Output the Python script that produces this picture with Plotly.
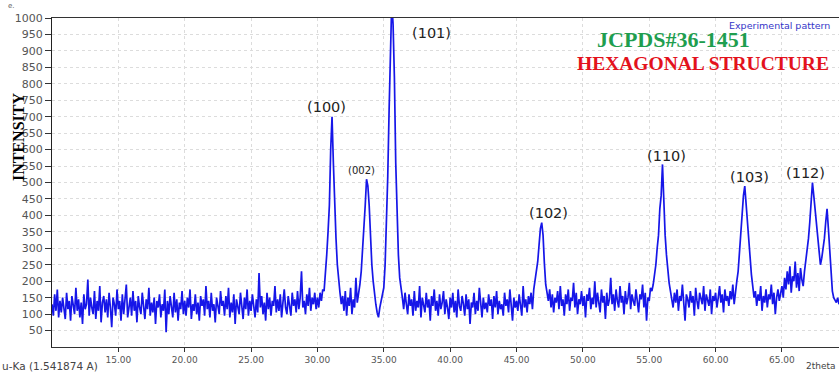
import plotly.graph_objects as go

scan_start = 10.0   # 2theta of first point
scan_step = 0.1     # 2theta step

counts_10_20 = [130, 95, 160, 110, 175, 90, 140, 105, 150, 120,
                85, 165, 115, 140, 80, 155, 125, 100, 180, 110,
                145, 90, 135, 70, 160, 115, 130, 205, 95, 150,
                120, 100, 170, 85, 140, 110, 185, 75, 135, 155,
                105, 145, 90, 165, 120, 60, 150, 130, 95, 175,
                115, 140, 80, 160, 100, 135, 190, 90, 125, 150,
                95, 170, 110, 140, 75, 155, 120, 100, 165, 130,
                85, 145, 115, 180, 95, 135, 105, 150, 70, 140,
                120, 160, 90, 130, 110, 175, 45, 140, 100, 155,
                125, 90, 165, 105, 145, 80, 135, 115, 170, 100]
counts_20_30 = [140, 95, 150, 120, 175, 85, 130, 110, 160, 100,
                135, 80, 155, 125, 145, 95, 185, 115, 140, 90,
                165, 110, 130, 75, 150, 120, 100, 170, 125, 140,
                95, 155, 115, 180, 90, 135, 105, 160, 70, 145,
                120, 100, 165, 130, 85, 150, 115, 175, 95, 140,
                110, 160, 125, 90, 145, 105, 225, 120, 155, 100,
                135, 80, 165, 115, 150, 95, 140, 125, 185, 105,
                145, 110, 160, 90, 135, 175, 120, 100, 155, 130,
                95, 165, 125, 145, 105, 170, 115, 150, 230, 120,
                140, 100, 160, 125, 180, 110, 150, 130, 165, 115]
counts_30_40 = [150, 120, 165, 140, 175, 170, 215, 280, 350, 430,
                600, 700, 560, 420, 330, 250, 195, 165, 130, 155,
                110, 170, 95, 150, 125, 180, 100, 145, 120, 210,
                135, 160, 190, 230, 290, 350, 430, 510, 490, 430,
                320, 250, 200, 160, 130, 105, 90, 120, 140, 150,
                180, 250, 360, 520, 720, 920, 1050, 980, 820, 560,
                380, 280, 210, 170, 150, 115, 165, 130, 100, 160,
                125, 145, 95, 170, 110, 140, 120, 185, 90, 150,
                130, 105, 165, 120, 145, 80, 155, 125, 175, 110,
                140, 95, 160, 115, 135, 170, 100, 145, 120, 85]
counts_40_50 = [150, 120, 165, 105, 140, 90, 175, 125, 110, 155,
                130, 95, 160, 115, 145, 70, 135, 120, 165, 100,
                140, 110, 180, 125, 90, 150, 115, 135, 105, 160,
                125, 145, 85, 155, 120, 170, 100, 140, 115, 130,
                95, 165, 125, 145, 105, 175, 130, 80, 150, 120,
                140, 110, 160, 125, 95, 185, 120, 145, 105, 155,
                130, 165, 115, 175, 200, 225, 260, 310, 360, 378,
                340, 255, 190, 165, 140, 175, 120, 160, 105, 150,
                135, 170, 115, 185, 125, 145, 95, 160, 130, 175,
                110, 150, 140, 195, 120, 165, 100, 145, 130, 170]
counts_50_60 = [125, 155, 90, 160, 140, 180, 115, 150, 130, 200,
                120, 165, 140, 105, 175, 135, 155, 85, 165, 125,
                145, 210, 130, 160, 110, 175, 140, 120, 185, 135,
                155, 100, 170, 130, 150, 195, 115, 160, 140, 125,
                175, 135, 105, 160, 145, 190, 120, 165, 80, 150,
                140, 180, 170, 190, 215, 250, 300, 340, 420, 460,
                555, 440, 340, 280, 230, 195, 170, 150, 120, 165,
                135, 175, 110, 155, 140, 190, 125, 80, 160, 145,
                120, 170, 135, 155, 95, 180, 140, 115, 165, 150,
                130, 185, 110, 160, 145, 125, 175, 100, 155, 140]
counts_60_70 = [165, 120, 150, 185, 135, 160, 105, 175, 140, 155,
                125, 170, 145, 190, 130, 175, 200, 230, 290, 340,
                400, 460, 489, 430, 370, 310, 270, 220, 185, 150,
                170, 125, 160, 140, 185, 110, 155, 135, 175, 120,
                160, 145, 190, 130, 165, 100, 150, 175, 140, 160,
                185, 150, 210, 175, 230, 190, 245, 165, 215, 200,
                260, 180, 225, 170, 240, 205, 185, 230, 260, 290,
                330, 380, 440, 500, 460, 420, 360, 320, 290, 250,
                270, 300, 330, 380, 420, 360, 300, 220, 170, 150,
                140, 135, 150, 130]

x_tick_values = [15, 20, 25, 30, 35, 40, 45, 50, 55, 60, 65]
y_tick_values = list(range(50, 1001, 50))

peak_labels = ["(100)", "(002)", "(101)", "(102)", "(110)", "(103)", "(112)"]

# ---- build ----
intensity = (counts_10_20 + counts_20_30 + counts_30_40 +
             counts_40_50 + counts_50_60 + counts_60_70)
two_theta = [round(scan_start + scan_step * i, 2) for i in range(len(intensity))]

fig = go.Figure()
fig.add_trace(go.Scatter(
    x=two_theta, y=intensity, mode="lines",
    line=dict(color="rgb(22,22,232)", width=1.7),
    showlegend=False, hoverinfo="skip"))

sans = "DejaVu Sans, Verdana, sans-serif"
serif = "Liberation Serif, Times New Roman, serif"

fig.update_xaxes(
    range=[10, 69.3], tickvals=x_tick_values,
    ticktext=[f"{v:.2f}" for v in x_tick_values],
    ticks="outside", ticklen=4, tickcolor="#333333",
    showline=True, linecolor="#333333", linewidth=1, mirror=True,
    showgrid=True, gridcolor="#dcdcdc", griddash="dot", gridwidth=1,
    zeroline=False, tickfont=dict(family=sans, size=9, color="#555555"))
fig.update_yaxes(
    range=[0, 1000], tickvals=y_tick_values,
    ticks="outside", ticklen=6, tickcolor="#333333",
    showline=True, linecolor="#222222", linewidth=1, mirror=False,
    showgrid=True, gridcolor="#dcdcdc", griddash="dot", gridwidth=1,
    zeroline=False, tickfont=dict(family=sans, size=11, color="#555555"))

# peak labels (data coordinates)
label_pos = [(30.69, 729, 14.5), (33.29, 538, 10), (38.56, 953, 14.5),
             (47.42, 407, 14.5), (56.27, 580, 14.5), (62.56, 518, 14.5),
             (66.75, 530, 14.5)]
for txt, (lx, ly, fs) in zip(peak_labels, label_pos):
    fig.add_annotation(x=lx, y=ly, xref="x", yref="y", text=txt,
                       showarrow=False, xanchor="center", yanchor="middle",
                       font=dict(family=sans, size=fs, color="#222222"))

W, H = 839, 372
ML, MR, MT, MB = 52, 0, 18, 25
PW, PH = W - ML - MR, H - MT - MB

def px(xp, yp):
    # pixel position in the figure -> paper (plot-area) coordinates
    return dict(x=(xp - ML) / PW, y=(H - MB - yp) / PH, xref="paper", yref="paper")

fig.add_annotation(**px(18, 137), text="<b>INTENSITY</b>", textangle=-90,
                   showarrow=False, xanchor="center", yanchor="middle",
                   font=dict(family=serif, size=16, color="#000000"))
fig.add_annotation(**px(673, 40), text="<b>JCPDS#36-1451</b>", showarrow=False,
                   xanchor="center", yanchor="middle", borderpad=0,
                   font=dict(family=serif, size=22, color="#1f9e4f"))
fig.add_annotation(**px(703, 63), text="<b>HEXAGONAL STRUCTURE</b>", showarrow=False,
                   xanchor="center", yanchor="middle", borderpad=0,
                   font=dict(family=serif, size=19.5, color="#e3121c"))
fig.add_annotation(**px(832, 25), text="Experimental pattern", showarrow=False,
                   xanchor="right", yanchor="middle",
                   font=dict(family=sans, size=9.5, color="#3535c8"))
fig.add_annotation(**px(0, 366), text="u-Ka (1.541874 A)", showarrow=False,
                   xanchor="left", yanchor="middle",
                   font=dict(family=sans, size=10.5, color="#444444"))
fig.add_annotation(**px(838, 366), text="2theta", showarrow=False,
                   xanchor="right", yanchor="middle",
                   font=dict(family=sans, size=9, color="#444444"))
fig.add_annotation(**px(6, 6), text="e.", showarrow=False,
                   xanchor="left", yanchor="middle",
                   font=dict(family=sans, size=7, color="#666666"))

fig.update_layout(
    width=W, height=H,
    margin=dict(l=ML, r=MR, t=MT, b=MB),
    paper_bgcolor="white", plot_bgcolor="white",
)

fig.write_html("out.html", config={"displayModeBar": False},
               post_script="document.body.style.margin='0px';document.body.style.overflow='hidden';")
